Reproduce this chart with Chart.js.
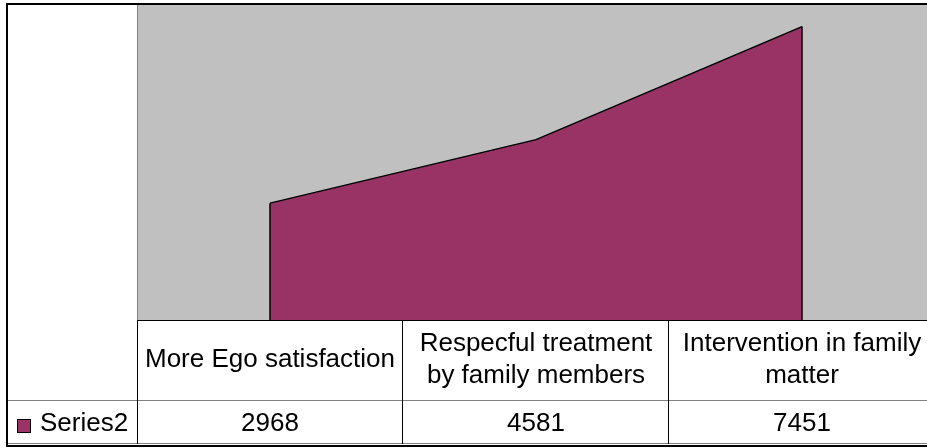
<!DOCTYPE html>
<html>
<head>
<meta charset="utf-8">
<script src="https://cdn.jsdelivr.net/npm/chart.js@4/dist/chart.umd.min.js"></script>
<style>
  html, body { margin: 0; padding: 0; background: #fff; overflow: hidden; }
  #wrap { width: 927px; height: 448px; overflow: hidden; position: relative; }
  #box { width: 937px; height: 448px; }
</style>
</head>
<body>
<div id="wrap"><div id="box"><canvas id="c" width="937" height="448"></canvas></div></div>
<script>
// ---- data ----
const categories = [
  ['More Ego satisfaction'],
  ['Respecful treatment', 'by family members'],
  ['Intervention in family', 'matter']
];
const seriesName = 'Series2';
const seriesValues = [2968, 4581, 7451];
const yMin = 0;
const yMax = 8000;

// ---- styles ----
const AREA = '#993366';
const PLOT_BG = '#C0C0C0';
const FONT = '26px "Liberation Sans", Arial, sans-serif';

function hline(ctx, x1, x2, y, color, w) {
  ctx.save(); ctx.strokeStyle = color; ctx.lineWidth = w || 1;
  ctx.beginPath(); ctx.moveTo(x1, y); ctx.lineTo(x2, y); ctx.stroke(); ctx.restore();
}
function vline(ctx, x, y1, y2, color, w) {
  ctx.save(); ctx.strokeStyle = color; ctx.lineWidth = w || 1;
  ctx.beginPath(); ctx.moveTo(x, y1); ctx.lineTo(x, y2); ctx.stroke(); ctx.restore();
}

const backgroundPlugin = {
  id: 'bg',
  beforeDraw(chart) {
    const { ctx, chartArea: a, width, height } = chart;
    ctx.save();
    ctx.fillStyle = '#fff';
    ctx.fillRect(0, 0, width, height);
    ctx.fillStyle = PLOT_BG;
    ctx.fillRect(a.left, a.top, a.right - a.left, a.bottom - a.top);
    ctx.restore();
    vline(ctx, a.left + 0.5, a.top, a.bottom, '#808080', 1);
  }
};

const tablePlugin = {
  id: 'table',
  afterDatasetsDraw(chart) {
    const { ctx, chartArea: a, scales } = chart;
    const xs = scales.x, ys = scales.y;
    const meta = chart.getDatasetMeta(0);
    const base = ys.getPixelForValue(yMin);
    // vertical edges of the area
    const p0 = meta.data[0], pn = meta.data[meta.data.length - 1];
    vline(ctx, p0.x, p0.y, base, '#000', 1.5);
    vline(ctx, pn.x, pn.y, base, '#000', 1.5);

    const step = xs.getPixelForValue(1) - xs.getPixelForValue(0);
    const half = step / 2;
    const rowTop = a.bottom;
    const rowMid = rowTop + 80;
    const rowBot = rowMid + 44;
    const W = chart.width;

    // grid lines
    hline(ctx, a.left, W, rowTop + 0.5, '#000', 1);
    hline(ctx, 7, W, rowMid + 0.5, '#808080', 1);
    hline(ctx, 7, W, rowBot - 0.5, '#808080', 1);
    vline(ctx, a.left + 0.5, rowTop, rowBot, '#000', 1);
    for (let i = 0; i < categories.length - 1; i++) {
      const bx = Math.round(xs.getPixelForValue(i) + half) - 0.5;
      vline(ctx, bx, rowTop, rowBot, '#000', 1);
    }

    // texts
    ctx.save();
    ctx.font = FONT;
    ctx.fillStyle = '#000';
    ctx.textAlign = 'center';
    ctx.textBaseline = 'alphabetic';
    const lineH = 32;
    const c1 = (rowTop + rowMid) / 2;
    categories.forEach((lines, i) => {
      const cx = xs.getPixelForValue(i);
      lines.forEach((t, k) => {
        const y = c1 + (k - (lines.length - 1) / 2) * lineH + 7;
        ctx.fillText(t, cx, y);
      });
    });
    const c2 = (rowMid + rowBot) / 2;
    seriesValues.forEach((v, i) => {
      ctx.fillText(String(v), xs.getPixelForValue(i), c2 + 9);
    });
    ctx.textAlign = 'left';
    ctx.fillText(seriesName, 40, c2 + 9);
    ctx.restore();

    // legend key
    ctx.save();
    ctx.fillStyle = AREA;
    ctx.fillRect(17, c2 - 3, 14, 14);
    ctx.strokeStyle = '#000';
    ctx.lineWidth = 1;
    ctx.strokeRect(17.5, c2 - 2.5, 13, 13);
    ctx.restore();

    // outer border
    ctx.save();
    ctx.strokeStyle = '#000';
    ctx.lineWidth = 2;
    ctx.strokeRect(7, 4, W - 8, 442);
    ctx.restore();
  }
};

new Chart(document.getElementById('c'), {
  type: 'line',
  data: {
    labels: categories,
    datasets: [{
      label: seriesName,
      data: seriesValues,
      fill: 'origin',
      backgroundColor: AREA,
      borderColor: '#000',
      borderWidth: 1.5,
      pointRadius: 0,
      tension: 0
    }]
  },
  options: {
    responsive: false,
    devicePixelRatio: 1,
    animation: false,
    layout: { padding: { left: 137, top: 5, right: 2, bottom: 128 } },
    scales: {
      x: { type: 'category', offset: true, display: false },
      y: { min: yMin, max: yMax, display: false }
    },
    plugins: { legend: { display: false }, tooltip: { enabled: false } }
  },
  plugins: [backgroundPlugin, tablePlugin]
});
</script>
</body>
</html>
